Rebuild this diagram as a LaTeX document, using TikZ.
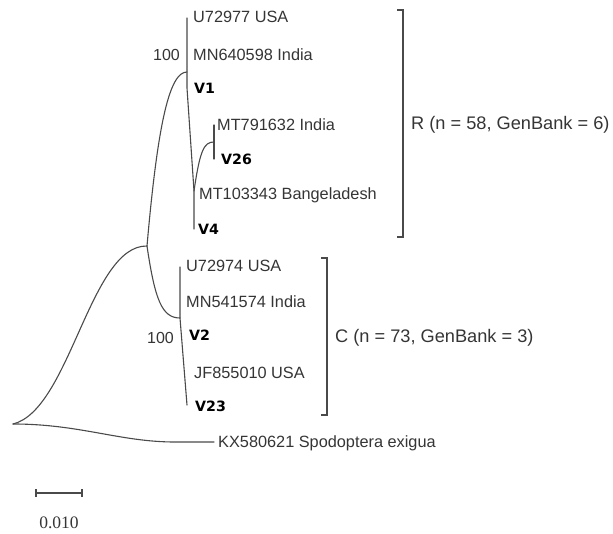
\documentclass[tikz,border=0pt]{standalone}
\usepackage{fontspec}
\setmainfont{Liberation Sans}
\newfontfamily\boldlab{DejaVu Sans}
\newfontfamily\serifnum{Liberation Serif}
\definecolor{txt}{HTML}{353535}
\definecolor{ln}{HTML}{4A4A4A}
\begin{document}
\begin{tikzpicture}[x=1pt,y=-1pt,
  br/.style={draw=ln,line width=1.1pt,line cap=round,line join=round},
  leaf/.style={anchor=west,inner sep=0pt,text=txt,font=\fontsize{16.3}{17}\selectfont},
  vlab/.style={anchor=west,inner sep=0pt,text=black,font=\boldlab\bfseries\fontsize{14.2}{15}\selectfont},
  boot/.style={anchor=east,inner sep=0pt,text=txt,font=\fontsize{16}{17}\selectfont},
  grp/.style={anchor=west,inner sep=0pt,text=txt,font=\fontsize{18.2}{19}\selectfont},
  brk/.style={draw=ln,line width=1.1pt}]
\useasboundingbox (0,0) rectangle (613,534);
% tree coordinates
\coordinate (root) at (13,424);
\coordinate (split) at (147,246);
\coordinate (rnode) at (187,72);
\coordinate (rtop) at (187,18);
\coordinate (rmid) at (187,88);
\coordinate (bnode) at (194,191);
\coordinate (rbot) at (194,229);
\coordinate (v26node) at (214,142);
\coordinate (v26top) at (214,125);
\coordinate (v26bot) at (214,159);
\coordinate (cnode) at (180,318);
\coordinate (ctop) at (180,267);
\coordinate (cbot) at (187,405);
\coordinate (outbend) at (175,442);
\coordinate (outend) at (214,442);
% branches
\draw[br] (root) .. controls (70,410) and (90,245) .. (split);
\draw[br] (split) .. controls (158,120) and (170,72) .. (rnode);
\draw[br] (rtop) -- (rmid) -- (bnode) -- (rbot);
\draw[br] (bnode) .. controls (200,150) and (204,142) .. (v26node);
\draw[br] (v26top) -- (v26bot);
\draw[br] (split) .. controls (155,300) and (162,318) .. (cnode);
\draw[br] (ctop) -- (cnode) -- (cbot);
\draw[br] (root) .. controls (80,424) and (120,442) .. (outbend) -- (outend);
% leaf labels
\node[leaf] (l1) at (193,17) {U72977 USA};
\node[leaf] (l2) at (193,55) {MN640598 India};
\node[vlab] (l3) at (194,88) {V1};
\node[boot] (b1) at (180,55) {100};
\node[leaf] (l4) at (217,125) {MT791632 India};
\node[vlab] (l5) at (221,159) {V26};
\node[leaf] (l6) at (199,195) {MT103343 Bangeladesh};
\node[vlab] (l7) at (198,229) {V4};
\node[leaf] (l8) at (186,266) {U72974 USA};
\node[leaf] (l9) at (186,302) {MN541574 India};
\node[vlab] (l10) at (189,335) {V2};
\node[boot] (b2) at (174,338) {100};
\node[leaf] (l11) at (194,373) {JF855010 USA};
\node[vlab] (l12) at (195,406) {V23};
\node[leaf] (l13) at (218,443) {KX580621 Spodoptera exigua};
% brackets
\coordinate (rb1) at (397,10);
\coordinate (rb2) at (403,10);
\coordinate (rb3) at (403,237);
\coordinate (rb4) at (397,237);
\draw[brk] (rb1) -- (rb2) -- (rb3) -- (rb4);
\node[grp] (gR) at (411,125) {R (n = 58, GenBank = 6)};
\coordinate (cb1) at (321,258);
\coordinate (cb2) at (327,258);
\coordinate (cb3) at (327,415);
\coordinate (cb4) at (321,415);
\draw[brk] (cb1) -- (cb2) -- (cb3) -- (cb4);
\node[grp] (gC) at (335,338) {C (n = 73, GenBank = 3)};
% scale bar
\coordinate (s1) at (36,493);
\coordinate (s2) at (82,493);
\draw[brk] (s1) -- (s2);
\draw[brk] ([yshift=-4pt]s1) -- ([yshift=4pt]s1);
\draw[brk] ([yshift=-4pt]s2) -- ([yshift=4pt]s2);
\node[text=txt,inner sep=0pt,font=\serifnum\fontsize{17.5}{18}\selectfont] (sl) at (59,523) {0.010};
\end{tikzpicture}
\end{document}
